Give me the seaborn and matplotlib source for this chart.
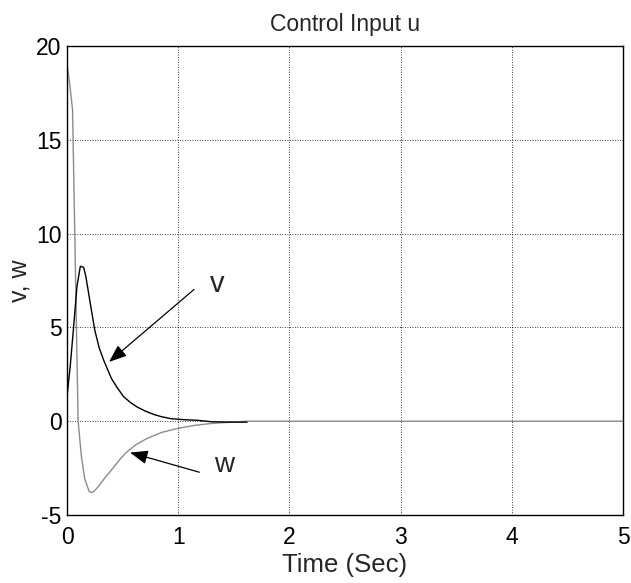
import matplotlib
matplotlib.use("Agg")
import matplotlib.pyplot as plt
import seaborn as sns
import pandas as pd

# ---- data ----
t_v = [0.0, 0.03, 0.057, 0.09, 0.12, 0.15, 0.17, 0.19, 0.22, 0.25, 0.29, 0.33,
       0.40, 0.45, 0.51, 0.57, 0.63, 0.70, 0.78, 0.85, 0.93, 1.05, 1.17, 1.30,
       1.45, 1.62]
v = [1.3, 3.0, 4.85, 7.2, 8.26, 8.2, 7.7, 6.98, 5.9, 4.85, 3.9, 3.25,
     2.27, 1.8, 1.3, 1.0, 0.76, 0.55, 0.36, 0.24, 0.14, 0.08, 0.05, -0.03,
     -0.05, -0.05]

t_w = [0.0, 0.02, 0.05, 0.075, 0.10, 0.13, 0.16, 0.20, 0.22, 0.24, 0.28,
       0.33, 0.40, 0.48, 0.54, 0.62, 0.72, 0.85, 0.99, 1.15, 1.30, 1.45,
       1.62, 5.0]
w = [19.0, 18.2, 16.6, 8.3, 0.0, -1.9, -3.1, -3.75, -3.8, -3.75, -3.5,
     -3.1, -2.6, -2.0, -1.63, -1.25, -0.92, -0.6, -0.39, -0.22, -0.12, -0.06,
     0.0, 0.0]

title = "Control Input u"
xlabel = "Time (Sec)"
ylabel = "v, w"
xticks = [0, 1, 2, 3, 4, 5]
yticks = [-5, 0, 5, 10, 15, 20]

df_v = pd.DataFrame({"t": t_v, "val": v})
df_w = pd.DataFrame({"t": t_w, "val": w})

sns.set_theme(style="white")
plt.rcParams["font.family"] = ["Liberation Sans", "DejaVu Sans"]

fig = plt.figure(figsize=(6.31, 5.83), dpi=100)
ax = fig.add_axes([67 / 631, 1 - 515 / 583, (623 - 67) / 631, (515 - 46) / 583])

sns.lineplot(data=df_w, x="t", y="val", ax=ax, color="#8c8c8c", linewidth=1.0,
             estimator=None, sort=False)
sns.lineplot(data=df_v, x="t", y="val", ax=ax, color="black", linewidth=1.0,
             estimator=None, sort=False)

ax.set_xlim(0, 5)
ax.set_ylim(-5, 20)
ax.set_xticks(xticks)
ax.set_yticks(yticks)
ax.set_xticklabels([str(x) for x in xticks], fontsize=16.5)
ax.set_yticklabels([str(y) for y in yticks], fontsize=16.5)
ax.tick_params(length=0, colors="black")
ax.tick_params(axis="x", pad=8)
ax.tick_params(axis="y", pad=4)
ax.grid(True, linestyle=(0, (1, 2)), color="black", linewidth=0.6)
for s in ax.spines.values():
    s.set_visible(True)
    s.set_color("black")
    s.set_linewidth(1.0)

ax.set_title(title, fontsize=16.5, pad=11)
ax.set_xlabel(xlabel, fontsize=18.5, labelpad=3)
ax.set_ylabel(ylabel, fontsize=18, labelpad=3)

arrowprops = dict(arrowstyle="-|>,head_length=0.9,head_width=0.35",
                  color="black", lw=0.9, shrinkA=0, shrinkB=0)
ax.annotate("", xy=(0.378, 3.16), xytext=(1.142, 7.02), arrowprops=arrowprops)
ax.annotate("", xy=(0.567, -1.67), xytext=(1.19, -2.72), arrowprops=arrowprops)
ax.text(1.353, 6.89, "v", fontsize=21, ha="center", va="baseline")
ax.text(1.412, -2.70, "w", fontsize=20, ha="center", va="baseline")

fig.savefig("out.png", dpi=100)
